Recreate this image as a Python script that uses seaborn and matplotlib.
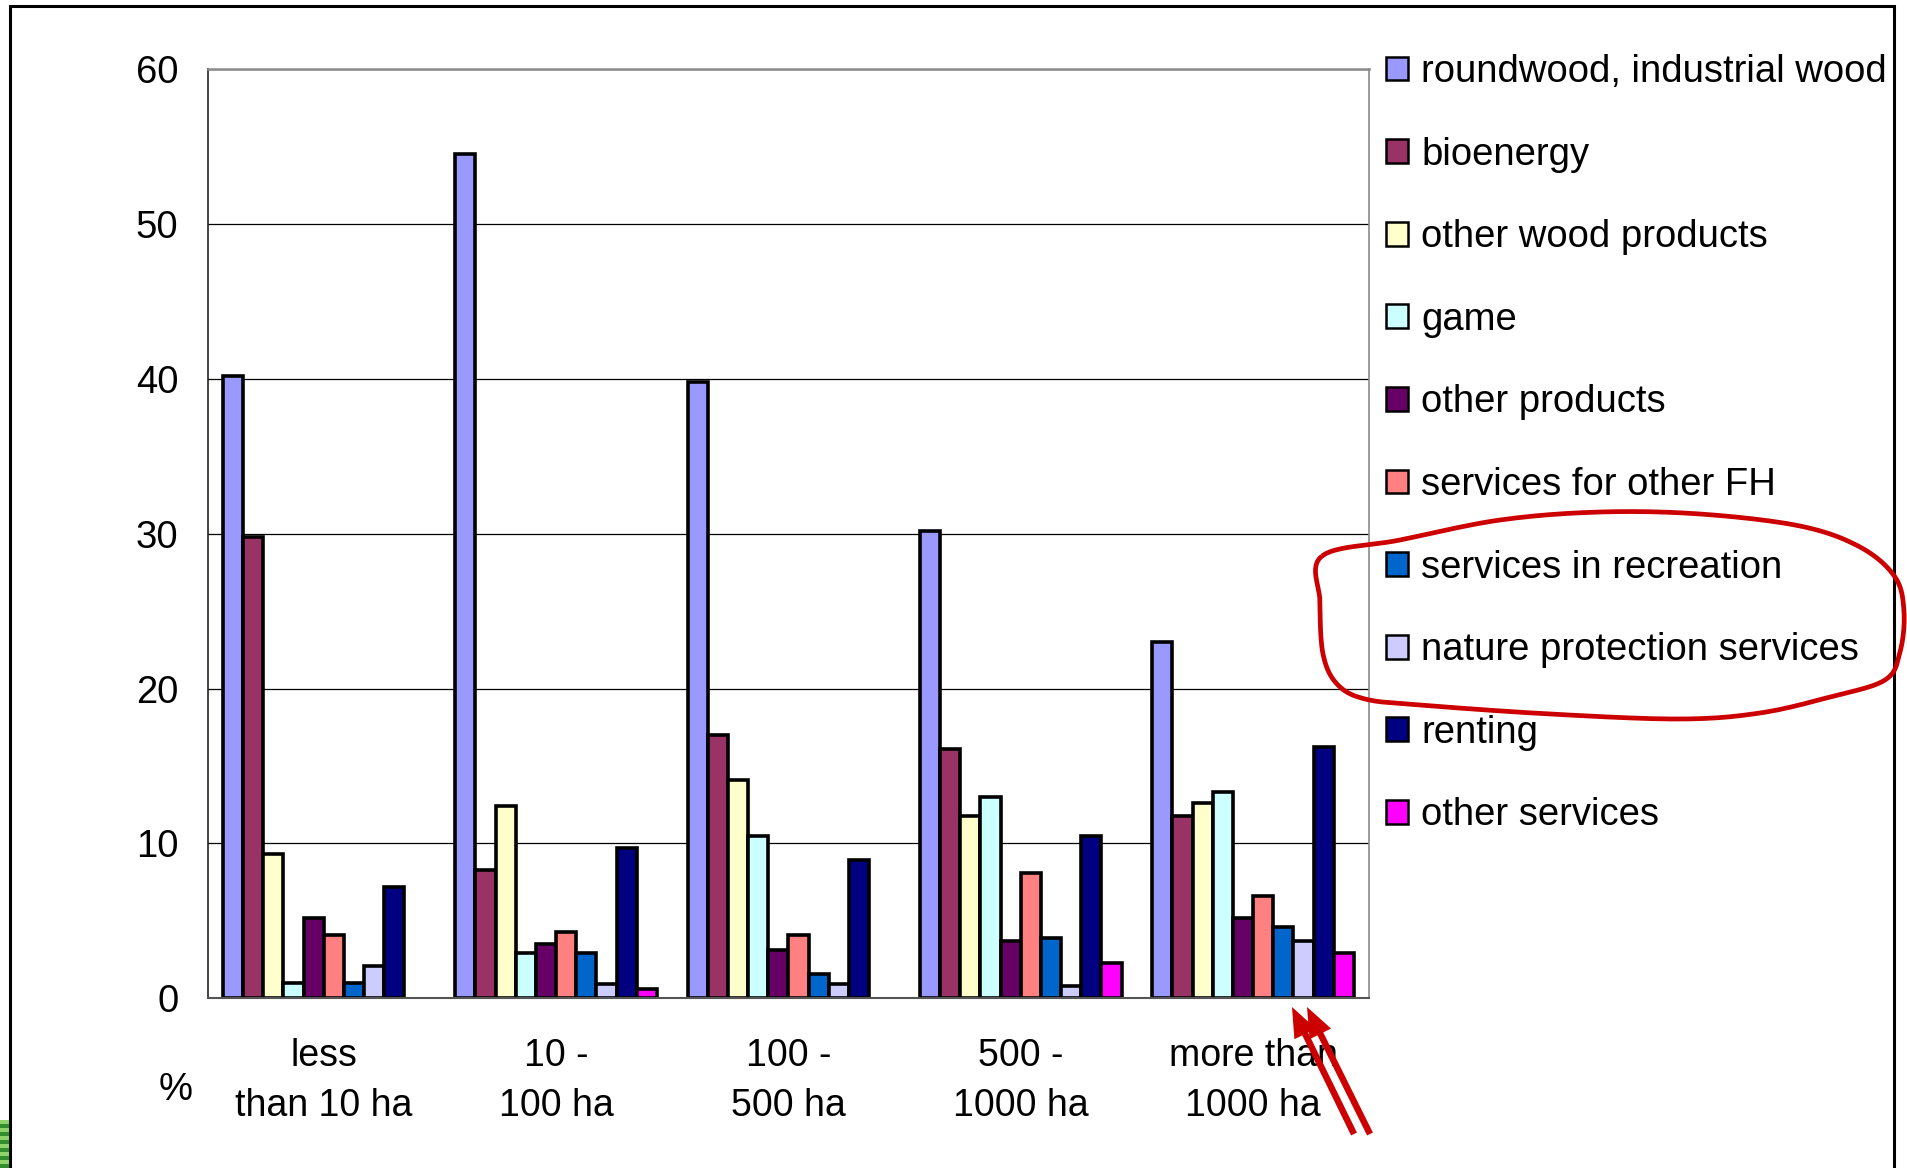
import numpy as np
import pandas as pd
import matplotlib
matplotlib.use("Agg")
import matplotlib.pyplot as plt
import seaborn as sns
from matplotlib.patches import Rectangle, FancyArrow, PathPatch
from matplotlib.path import Path
from matplotlib.transforms import IdentityTransform

# ---- data -------------------------------------------------------------
holding_sizes = ["less\nthan 10 ha", "10 -\n100 ha", "100 -\n500 ha",
                 "500 -\n1000 ha", "more than\n1000 ha"]

income_sources = ["roundwood, industrial wood", "bioenergy", "other wood products",
                  "game", "other products", "services for other FH",
                  "services in recreation", "nature protection services",
                  "renting", "other services"]

roundwood = [40.2, 54.5, 39.8, 30.2, 23.0]
bioenergy = [29.8, 8.3, 17.0, 16.1, 11.8]
other_wood_products = [9.3, 12.4, 14.1, 11.8, 12.6]
game = [1.0, 2.9, 10.5, 13.0, 13.3]
other_products = [5.2, 3.5, 3.1, 3.7, 5.2]
services_other_fh = [4.1, 4.3, 4.1, 8.1, 6.6]
services_recreation = [1.0, 2.9, 1.6, 3.9, 4.6]
nature_protection = [2.1, 0.95, 0.95, 0.8, 3.7]
renting = [7.2, 9.7, 8.9, 10.5, 16.2]
other_services = [0.0, 0.6, 0.0, 2.3, 2.9]

colors = ["#9999FF", "#993366", "#FFFFCC", "#CCFFFF", "#660066",
          "#FF8080", "#0066CC", "#CCCCFF", "#000080", "#FF00FF"]

series = [roundwood, bioenergy, other_wood_products, game, other_products,
          services_other_fh, services_recreation, nature_protection,
          renting, other_services]

rows = []
for src, vals in zip(income_sources, series):
    for size, v in zip(holding_sizes, vals):
        rows.append({"size": size, "source": src, "share": v})
df = pd.DataFrame(rows)

# ---- style ------------------------------------------------------------
sns.set_style("white")
plt.rcParams["font.family"] = ["Liberation Sans", "DejaVu Sans"]
plt.rcParams.update({"text.color": "black", "axes.labelcolor": "black",
                     "xtick.color": "black", "ytick.color": "black"})

W, H = 1907, 1168
fig = plt.figure(figsize=(W / 100, H / 100), dpi=100)
fig.patch.set_facecolor("white")

ax = fig.add_axes([207.6 / W, 1 - 998.3 / H, (1369.3 - 207.6) / W, (998.3 - 69.3) / H])

sns.barplot(data=df, x="size", y="share", hue="source",
            order=holding_sizes, hue_order=income_sources,
            palette=colors, saturation=1, width=0.868,
            edgecolor="black", linewidth=2.6, errorbar=None,
            legend=False, ax=ax)

# empty categories get no outline along the baseline
for bar in ax.patches:
    if bar.get_height() == 0:
        bar.set_linewidth(0)

ax.set_xlim(-0.5, 4.5)
ax.set_ylim(0, 60)
ax.set_xlabel("")
ax.set_ylabel("")

# y axis
ax.set_yticks(np.arange(0, 61, 10))
ax.tick_params(axis="y", direction="out", length=8, width=1.0,
               color="#222222", labelcolor="black", pad=13, labelsize=27.5)
ax.yaxis.grid(True, color="black", linewidth=0.9)
ax.set_axisbelow(True)

# x axis: tick marks between the groups, labels at the group centres
ax.set_xticks(np.arange(-0.5, 5.0, 1.0))
ax.set_xticklabels([""] * 6)
ax.set_xticks(np.arange(5), minor=True)
ax.set_xticklabels(holding_sizes, minor=True, fontsize=27, linespacing=1.52)
ax.tick_params(axis="x", which="major", direction="out", length=9,
               width=1.0, color="#222222")
ax.tick_params(axis="x", which="minor", length=0, pad=28.5, labelcolor="black")

for side in ["top", "right"]:
    ax.spines[side].set_color("#8a8a8a")
ax.spines["top"].set_linewidth(1.8)
ax.spines["right"].set_linewidth(1.2)
ax.spines["left"].set_color("#222222")
ax.spines["left"].set_linewidth(1.2)
ax.spines["bottom"].set_color("#555555")
ax.spines["bottom"].set_linewidth(1.5)

fig.text(176 / W, 1 - 1090 / H, "%", fontsize=27.5, ha="center", va="center",
         color="black")

# legend
handles = [Rectangle((0, 0), 1, 1, facecolor=c, edgecolor="black", linewidth=1.8)
           for c in colors]
leg = fig.legend(handles, income_sources, loc="upper left",
                 bbox_to_anchor=(1386 / W, 1 - 54 / H), frameon=False,
                 fontsize=27.5, handlelength=0.58, handleheight=0.58,
                 handletextpad=0.34, labelspacing=1.22, borderpad=0,
                 borderaxespad=0)
for t in leg.get_texts():
    t.set_color("black")

# ---- slide decorations (pixel coordinates, origin top-left) ----------
px = IdentityTransform()


def flip(pts):
    return [(x, H - y) for x, y in pts]


# outer frame
frame = Rectangle((10, -20), 1884, H - 6 + 20, transform=px, fill=False,
                  edgecolor="black", linewidth=2.2)
fig.add_artist(frame)

# small green strip in the lower left corner
for i, y in enumerate(range(1120, 1168, 4)):
    fig.add_artist(Rectangle((0, H - y - 4), 9, 4, transform=px,
                             facecolor="#2f8f2f" if i % 2 else "#8fd36a",
                             edgecolor="none"))

# hand-drawn red loop around two legend entries
loop = [(1322, 556), (1400, 540), (1500, 520), (1600, 512), (1700, 514),
        (1800, 526), (1860, 547), (1895, 577), (1904, 612), (1900, 652),
        (1885, 680), (1830, 697), (1760, 713), (1680, 719), (1550, 714),
        (1420, 705), (1365, 699), (1337, 684), (1323, 654), (1320, 602)]
P = np.array(loop, dtype=float)
n = len(P)
curve = []
for i in range(n):
    p0, p1, p2, p3 = P[i - 1], P[i], P[(i + 1) % n], P[(i + 2) % n]
    for t in np.linspace(0, 1, 12, endpoint=False):
        t2, t3 = t * t, t * t * t
        pt = 0.5 * ((2 * p1) + (-p0 + p2) * t + (2 * p0 - 5 * p1 + 4 * p2 - p3) * t2
                    + (-p0 + 3 * p1 - 3 * p2 + p3) * t3)
        curve.append(tuple(pt))
curve.append(curve[0])
loop_path = Path(flip(curve))
fig.add_artist(PathPatch(loop_path, transform=px, fill=False,
                         edgecolor="#CC0000", linewidth=3.4))

# double red arrow pointing at the bars
for (x0, y0), (x1, y1) in [((1354, 1134), (1292, 1007)),
                           ((1370, 1134), (1307, 1007))]:
    fig.add_artist(FancyArrow(x0, H - y0, x1 - x0, -(y1 - y0), width=6.5,
                              head_width=24, head_length=30,
                              length_includes_head=True, transform=px,
                              facecolor="#CC0000", edgecolor="none"))

fig.savefig("out.png", dpi=100)
